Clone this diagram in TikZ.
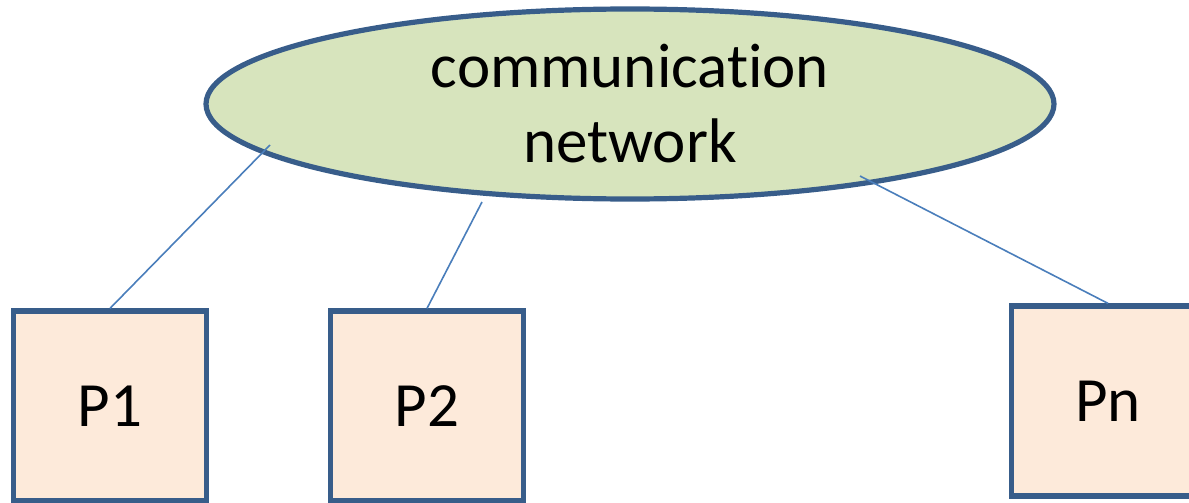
\documentclass[tikz,border=0pt]{standalone}
\usepackage{fontspec}
\setmainfont[Ligatures=NoCommon]{Carlito}
\usetikzlibrary{shapes.geometric}
\definecolor{netfill}{HTML}{D7E4BD}
\definecolor{procfill}{HTML}{FDEADA}
\definecolor{edgeblue}{HTML}{385D8A}
\definecolor{wireblue}{HTML}{4A7EBB}

\begin{document}
\begin{tikzpicture}[
						x=1pt, y=-1pt,
						net/.style = {draw=edgeblue, fill=netfill, line width=5.2pt, ellipse, minimum width=848pt, minimum height=190pt, align=center, font=\fontsize{63}{75}\selectfont},
						proc/.style = {draw=edgeblue, fill=procfill, line width=5.2pt, rectangle, minimum width=193pt, minimum height=190pt, font=\fontsize{63}{75}\selectfont},
						wire/.style = {draw=wireblue, line width=1.6pt}
					]
					\clip (0,0) rectangle (1189,503);
					\useasboundingbox (0,0) rectangle (1189,503);
					\node[net] (cn) at (630,104) {communication\\network};
					\node[proc] (1) at (110,406) {P1};
					\node[proc] (2) at (427,406) {P2};
					\node[proc] (n) at (1108,401) {Pn};
					\coordinate (c1) at (270,145);
					\coordinate (c2) at (482,202);
					\coordinate (cn2) at (860,176);
					\draw[wire] (c1) to (1.north);
					\draw[wire] (c2) to (2.north);
					\draw[wire] (cn2) to (n.north);
				\end{tikzpicture}
\end{document}
